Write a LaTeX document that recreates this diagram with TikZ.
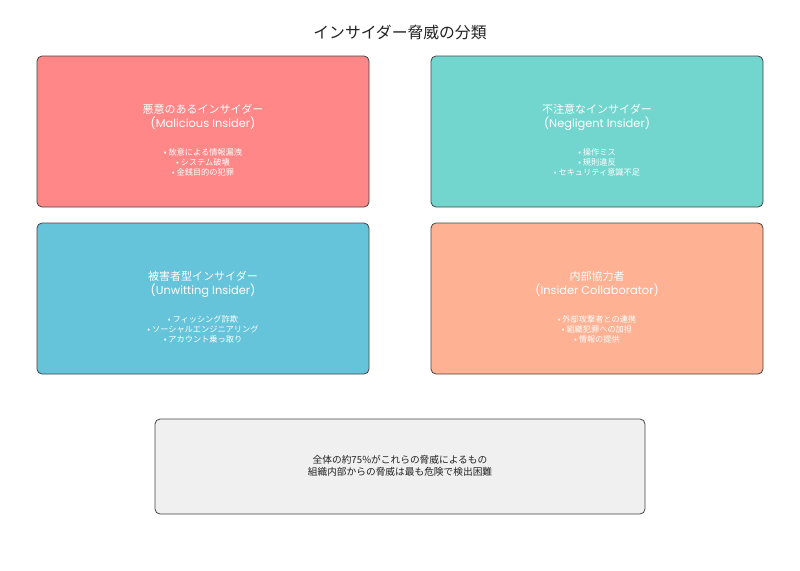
\documentclass[tikz,border=0pt]{standalone}
\usepackage{fontspec}
\setmainfont{Noto Sans CJK JP}
\newfontfamily\latfont{Poppins}
\definecolor{cred}{HTML}{FF8787}
\definecolor{cteal}{HTML}{72D6CE}
\definecolor{cblue}{HTML}{66C4DA}
\definecolor{csalmon}{HTML}{FFB193}
\definecolor{cgray}{HTML}{F0F0F0}
\definecolor{cborder}{HTML}{444444}
\definecolor{ctext}{HTML}{222222}
\begin{document}
\begin{tikzpicture}[x=1pt,y=-1pt,
  card/.style={draw=cborder,line width=0.8pt,rounded corners=5pt},
  head/.style={text=white,font=\fontsize{11}{14}\selectfont,align=center,inner sep=0pt},
  lat/.style={},
  items/.style={text=white,font=\fontsize{8.2}{10}\selectfont,align=center,inner sep=0pt},
  note/.style={text=ctext,font=\fontsize{9.7}{12}\selectfont,align=center,inner sep=0pt}]
\useasboundingbox[fill=white] (0,0) rectangle (800,570);
\node[text=ctext,font=\fontsize{15.8}{18}\selectfont,inner sep=0pt] (title) at (400,32) {インサイダー脅威の分類};
% boxes
\draw[card,fill=cred] (37,56) rectangle (369,207);
\draw[card,fill=cteal] (431,56) rectangle (763,207);
\draw[card,fill=cblue] (37,223) rectangle (369,374);
\draw[card,fill=csalmon] (431,223) rectangle (763,374);
\draw[card,fill=cgray] (155,419) rectangle (645,514);
% box 1
\node[head] (h1) at (203,117) {悪意のあるインサイダー\\{\latfont\fontsize{11.4}{14}\selectfont (Malicious Insider)}};
\node[items] (i1) at (203,162) {• 故意による情報漏洩\\• システム破壊\\• 金銭目的の犯罪};
% box 2
\node[head] (h2) at (597,117) {不注意なインサイダー\\{\latfont\fontsize{11.4}{14}\selectfont (Negligent Insider)}};
\node[items] (i2) at (597,162) {• 操作ミス\\• 規則違反\\• セキュリティ意識不足};
% box 3
\node[head] (h3) at (203,284) {被害者型インサイダー\\{\latfont\fontsize{11.4}{14}\selectfont (Unwitting Insider)}};
\node[items] (i3) at (203,329) {• フィッシング詐欺\\• ソーシャルエンジニアリング\\• アカウント乗っ取り};
% box 4
\node[head] (h4) at (597,284) {内部協力者\\{\latfont\fontsize{11.4}{14}\selectfont (Insider Collaborator)}};
\node[items] (i4) at (597,329) {• 外部攻撃者との連携\\• 組織犯罪への加担\\• 情報の提供};
% note
\node[note] (n) at (400,466) {全体の約75\%がこれらの脅威によるもの\\組織内部からの脅威は最も危険で検出困難};
\end{tikzpicture}
\end{document}
